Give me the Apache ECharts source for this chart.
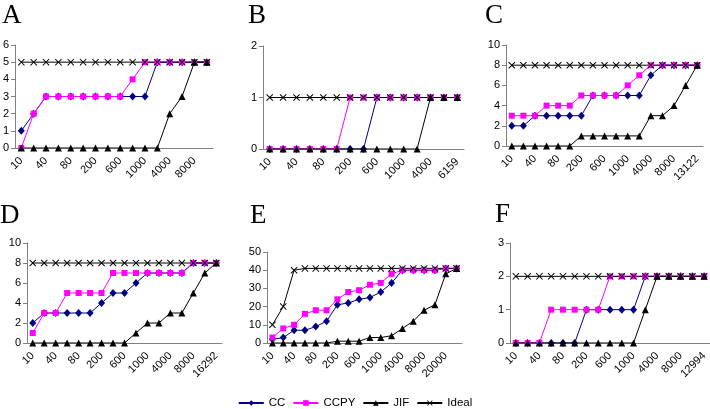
<!DOCTYPE html>
<html>
<head>
<meta charset="utf-8">
<script src="https://cdn.jsdelivr.net/npm/echarts@6/dist/echarts.min.js"></script>
<style>
html, body { margin: 0; padding: 0; background: #fff; }
#main { width: 710px; height: 409px; }
</style>
</head>
<body>
<div id="main"></div>
<script>
// cut-off categories for each panel
var catsA = ['10','20','40','60','80','100','200','400','600','800','1000','2000','4000','6000','8000','10000'];
var catsB = ['10','20','40','60','80','100','200','400','600','800','1000','2000','4000','6000','6159'];
var catsC = ['10','20','40','60','80','100','200','400','600','800','1000','2000','4000','6000','8000','10000','13122'];
var catsD = ['10','20','40','60','80','100','200','400','600','800','1000','2000','4000','6000','8000','10000','16292'];
var catsE = ['10','20','40','60','80','100','200','400','600','800','1000','2000','4000','6000','8000','10000','20000','30000'];
var catsF = ['10','20','40','60','80','100','200','400','600','800','1000','2000','4000','6000','8000','10000','12994'];

// A
var ccA    = [1,2,3,3,3,3,3,3,3,3,3,5,5,5,5,5];
var ccpyA  = [0,2,3,3,3,3,3,3,3,4,5,5,5,5,5,5];
var jifA   = [0,0,0,0,0,0,0,0,0,0,0,0,2,3,5,5];
var idealA = [5,5,5,5,5,5,5,5,5,5,5,5,5,5,5,5];
// B
var ccB    = [0,0,0,0,0,0,0,0,1,1,1,1,1,1,1];
var ccpyB  = [0,0,0,0,0,0,1,1,1,1,1,1,1,1,1];
var jifB   = [0,0,0,0,0,0,0,0,0,0,0,0,1,1,1];
var idealB = [1,1,1,1,1,1,1,1,1,1,1,1,1,1,1];
// C
var ccC    = [2,2,3,3,3,3,3,5,5,5,5,5,7,8,8,8,8];
var ccpyC  = [3,3,3,4,4,4,5,5,5,5,6,7,8,8,8,8,8];
var jifC   = [0,0,0,0,0,0,1,1,1,1,1,1,3,3,4,6,8];
var idealC = [8,8,8,8,8,8,8,8,8,8,8,8,8,8,8,8,8];
// D
var ccD    = [2,3,3,3,3,3,4,5,5,6,7,7,7,7,8,8,8];
var ccpyD  = [1,3,3,5,5,5,5,7,7,7,7,7,7,7,8,8,8];
var jifD   = [0,0,0,0,0,0,0,0,0,1,2,2,3,3,5,7,8];
var idealD = [8,8,8,8,8,8,8,8,8,8,8,8,8,8,8,8,8];
// E
var ccE    = [2,3,7,7,9,12,21,22,24,25,28,33,40,40,40,40,41,41];
var ccpyE  = [3,8,10,16,18,18,24,28,29,32,33,38,40,40,40,40,41,41];
var jifE   = [0,0,0,0,0,0,1,1,1,3,3,4,8,12,18,21,38,41];
var idealE = [10,20,40,41,41,41,41,41,41,41,41,41,41,41,41,41,41,41];
// F
var ccF    = [0,0,0,0,0,0,1,1,1,1,1,2,2,2,2,2,2];
var ccpyF  = [0,0,0,1,1,1,1,1,2,2,2,2,2,2,2,2,2];
var jifF   = [0,0,0,0,0,0,0,0,0,0,0,1,2,2,2,2,2];
var idealF = [2,2,2,2,2,2,2,2,2,2,2,2,2,2,2,2,2];

var yMax  = [6, 2, 10, 10, 50, 3];
var yStep = [1, 1, 2, 2, 10, 1];

var panels = [
    {name:'A', cats:catsA, cc:ccA, ccpy:ccpyA, jif:jifA, ideal:idealA},
    {name:'B', cats:catsB, cc:ccB, ccpy:ccpyB, jif:jifB, ideal:idealB},
    {name:'C', cats:catsC, cc:ccC, ccpy:ccpyC, jif:jifC, ideal:idealC},
    {name:'D', cats:catsD, cc:ccD, ccpy:ccpyD, jif:jifD, ideal:idealD},
    {name:'E', cats:catsE, cc:ccE, ccpy:ccpyE, jif:jifE, ideal:idealE},
    {name:'F', cats:catsF, cc:ccF, ccpy:ccpyF, jif:jifF, ideal:idealF}
];

// where each little plot sits (px)
var boxes = [
    {left:14,  top:45,  width:199, height:103, tx:2,   ty:2},
    {left:263, top:46,  width:201, height:103, tx:248, ty:2},
    {left:506, top:45,  width:197, height:101, tx:485, ty:2},
    {left:27,  top:243, width:195, height:100, tx:0,   ty:202},
    {left:267, top:252, width:195, height:91,  tx:250, ty:202},
    {left:510, top:243, width:206, height:100, tx:495, ty:201}
];

var xMark = 'path://M0,1L1,0L5,4L9,0L10,1L6,5L10,9L9,10L5,6L1,10L0,9L4,5Z';
var looks = [
    {key:'cc',    name:'CC',    color:'#000080', symbol:'diamond',  size:[7,8]},
    {key:'ccpy',  name:'CCPY',  color:'#ff00ff', symbol:'rect',     size:6},
    {key:'jif',   name:'JIF',   color:'#000000', symbol:'triangle', size:7},
    {key:'ideal', name:'Ideal', color:'#000000', symbol:xMark,      size:7}
];

var font = 'Liberation Sans';
var grids = [], xAxes = [], yAxes = [], titles = [], series = [];

panels.forEach(function (p, i) {
    var b = boxes[i];
    grids.push({left:b.left, top:b.top, width:b.width, height:b.height, containLabel:false});
    titles.push({
        text: p.name, left: b.tx, top: b.ty, padding: 0,
        textStyle: {fontFamily:'Liberation Serif', fontSize:27, fontWeight:'normal', color:'#000'}
    });
    xAxes.push({
        type:'category', gridIndex:i, data:p.cats, boundaryGap:true,
        axisLine: {lineStyle:{color:'#808080'}},
        axisTick: {interval:0, inside:true, length:3, lineStyle:{color:'#808080'}},
        axisLabel: {interval:1, rotate:45, margin:11, fontSize:11, color:'#000', fontFamily:font}
    });
    yAxes.push({
        type:'value', gridIndex:i, min:0, max:yMax[i], interval:yStep[i],
        axisLine: {show:true, lineStyle:{color:'#808080'}},
        axisTick: {show:true, length:4, lineStyle:{color:'#808080'}},
        splitLine: {show:false},
        axisLabel: {margin:6, fontSize:11, color:'#000', fontFamily:font}
    });
    looks.forEach(function (s) {
        series.push({
            name: s.name, type:'line', xAxisIndex:i, yAxisIndex:i,
            data: p[s.key],
            symbol: s.symbol, symbolSize: s.size, showAllSymbol: true,
            lineStyle: {color:s.color, width:1},
            itemStyle: {color:s.color},
            emphasis: {disabled:true}
        });
    });
});

var chart = echarts.init(document.getElementById('main'));
chart.setOption({
    animation: false,
    backgroundColor: '#fff',
    title: titles,
    grid: grids,
    xAxis: xAxes,
    yAxis: yAxes,
    legend: {
        data: ['CC','CCPY','JIF','Ideal'],
        top: 397, left: 'center', padding: 0,
        itemWidth: 25, itemHeight: 7, itemGap: 7,
        textStyle: {fontSize:11.5, color:'#000', fontFamily:font}
    },
    series: series
});
</script>
</body>
</html>
